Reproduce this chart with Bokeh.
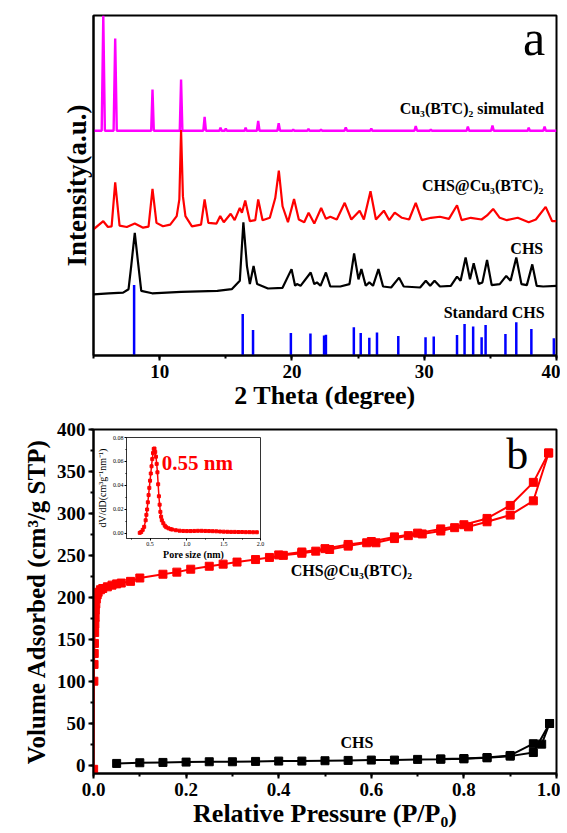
from bokeh.plotting import figure
from bokeh.models import SingleIntervalTicker, FixedTicker, PrintfTickFormatter, Range1d, Label
from bokeh.layouts import column
from bokeh.embed import file_html
from bokeh.resources import INLINE

FONT = "Liberation Serif"

# ---------------- Panel a : XRD patterns (2theta, intensity a.u.) ----------------
cu_btc_simulated = [
    (5.0, 66.1), (5.62, 66.1), (5.74, 100.0), (5.86, 66.1), (6.52, 66.1), (6.64, 93.2), (6.76, 66.1),
    (9.36, 66.1), (9.46, 78.2), (9.56, 66.1), (11.52, 66.1), (11.62, 81.2), (11.72, 66.1),
    (13.30, 66.1), (13.40, 70.2), (13.50, 66.1), (14.52, 66.1), (14.60, 67.0), (14.68, 66.1),
    (14.92, 66.1), (15.00, 66.8), (15.08, 66.1), (16.42, 66.1), (16.50, 67.0), (16.58, 66.1),
    (17.35, 66.1), (17.45, 69.0), (17.55, 66.1), (18.90, 66.1), (19.00, 68.3), (19.10, 66.1),
    (20.02, 66.1), (20.10, 66.5), (20.18, 66.1), (21.17, 66.1), (21.25, 66.7), (21.33, 66.1),
    (22.12, 66.1), (22.20, 66.5), (22.28, 66.1), (23.97, 66.1), (24.07, 67.1), (24.17, 66.1),
    (25.92, 66.1), (26.00, 66.8), (26.08, 66.1), (29.26, 66.1), (29.36, 67.5), (29.46, 66.1),
    (30.42, 66.1), (30.50, 66.5), (30.58, 66.1), (33.20, 66.1), (33.30, 67.3), (33.40, 66.1),
    (35.06, 66.1), (35.16, 67.6), (35.26, 66.1), (37.82, 66.1), (37.90, 67.0), (37.98, 66.1),
    (39.00, 66.1), (39.10, 67.3), (39.20, 66.1), (40.0, 66.1),
]

chs_cu_btc = [
    (5.00, 37.1), (5.74, 39.5), (6.09, 37.8), (6.37, 38.0), (6.64, 50.9), (6.97, 38.2), (7.52, 37.8),
    (8.12, 38.8), (8.75, 37.6), (9.16, 37.9), (9.46, 49.0), (9.76, 39.0), (10.25, 38.0), (10.80, 38.5),
    (11.29, 41.0), (11.49, 45.9), (11.62, 66.3), (11.76, 46.8), (11.95, 41.0), (12.44, 38.0),
    (13.13, 38.5), (13.40, 45.9), (13.68, 39.0), (14.30, 38.8), (14.58, 41.0), (14.85, 39.2),
    (15.37, 41.7), (15.67, 39.8), (16.06, 43.4), (16.22, 42.0), (16.47, 45.6), (16.82, 39.5),
    (17.23, 39.8), (17.45, 45.9), (17.78, 39.8), (18.33, 40.5), (18.74, 46.3), (19.01, 54.4),
    (19.29, 43.9), (19.70, 39.2), (20.16, 46.0), (20.52, 40.0), (20.93, 39.2), (21.26, 42.0),
    (21.69, 38.8), (22.21, 43.4), (22.57, 40.2), (22.90, 40.8), (23.39, 40.0), (23.99, 44.9),
    (24.49, 40.0), (25.12, 42.6), (25.44, 40.0), (25.94, 48.3), (26.35, 40.0), (26.95, 42.6),
    (27.36, 39.8), (27.77, 42.0), (28.32, 40.5), (28.86, 40.0), (29.36, 44.9), (29.82, 39.8),
    (30.51, 40.5), (31.19, 40.8), (31.87, 40.2), (32.48, 44.2), (32.83, 39.8), (33.52, 40.5),
    (34.34, 40.0), (34.75, 41.2), (35.21, 43.1), (35.71, 40.5), (36.25, 39.8), (37.07, 40.5),
    (37.90, 39.2), (38.44, 40.0), (39.18, 43.7), (39.67, 39.5), (40.00, 39.5),
]

chs = [
    (5.00, 18.0), (6.15, 18.3), (7.24, 18.5), (7.65, 19.5), (7.85, 26.3), (8.12, 36.1), (8.34, 28.3),
    (8.61, 19.0), (9.43, 18.3), (11.62, 18.7), (14.36, 19.0), (15.45, 19.5), (16.06, 22.0),
    (16.33, 39.2), (16.60, 26.3), (16.82, 21.0), (17.10, 26.3), (17.37, 21.0), (18.19, 19.7),
    (19.29, 19.9), (19.97, 25.4), (20.24, 20.5), (20.38, 21.0), (20.65, 20.5), (21.42, 24.4),
    (21.69, 21.0), (21.89, 21.5), (22.16, 20.5), (22.57, 24.4), (22.90, 20.3), (23.66, 20.3),
    (24.35, 21.0), (24.70, 30.0), (25.03, 22.4), (25.25, 25.4), (25.58, 20.5), (25.85, 21.5),
    (26.13, 20.5), (26.54, 25.4), (26.89, 20.3), (27.50, 20.0), (28.10, 22.9), (28.45, 20.3),
    (29.69, 20.0), (30.12, 22.0), (30.45, 20.5), (30.78, 22.0), (31.19, 20.3), (32.01, 20.5),
    (32.48, 23.2), (32.75, 22.0), (33.13, 28.8), (33.46, 22.4), (33.74, 27.1), (34.12, 21.0),
    (34.40, 21.5), (34.75, 28.1), (35.10, 20.7), (35.71, 21.0), (36.20, 23.4), (36.53, 22.0),
    (36.96, 28.8), (37.35, 21.0), (37.76, 20.7), (38.17, 26.8), (38.50, 20.5), (38.99, 20.3),
    (40.00, 20.5),
]

std_chs_pos = [8.07, 16.28, 17.06, 19.92, 21.40, 22.43, 22.57, 24.68, 25.20, 25.85, 26.43, 28.04,
               30.10, 30.72, 32.48, 33.05, 33.70, 34.34, 34.64, 36.14, 36.96, 38.10, 39.80]
std_chs_int = [20.7, 12.2, 7.5, 6.6, 6.5, 5.9, 6.1, 8.3, 6.6, 5.2, 6.8, 5.7,
               5.4, 5.6, 6.0, 9.3, 8.5, 5.4, 9.0, 6.3, 9.8, 7.8, 5.1]

xrd_ticks_interval = 10

# ---------------- Panel b : N2 isotherms ----------------
mof_ads = [
    (0.0003, -5), (0.0008, 100), (0.0012, 120), (0.0016, 133), (0.002, 145), (0.0025, 158),
    (0.003, 168), (0.0035, 176), (0.004, 185), (0.005, 192), (0.006, 198), (0.008, 203),
    (0.010, 206), (0.015, 209), (0.02, 210.5), (0.03, 212.5), (0.04, 214.5), (0.05, 216),
    (0.06, 217), (0.08, 219), (0.10, 223), (0.15, 227.5), (0.18, 230), (0.21, 233.5),
    (0.25, 237), (0.28, 239.5), (0.31, 242), (0.35, 245), (0.38, 247.5), (0.41, 250),
    (0.45, 252.5), (0.48, 255), (0.51, 257), (0.55, 261), (0.59, 265), (0.61, 265),
    (0.65, 270), (0.68, 273.5), (0.71, 275.5), (0.75, 279), (0.78, 283), (0.81, 284),
    (0.85, 290), (0.90, 298), (0.95, 315), (0.983, 372),
]
mof_des = [
    (0.983, 372), (0.95, 337), (0.90, 309.5), (0.85, 294), (0.80, 286.5), (0.75, 281.5),
    (0.70, 276.5), (0.65, 272), (0.60, 266.5), (0.55, 263), (0.50, 258), (0.45, 254), (0.40, 250.5),
]
chs_ads = [
    (0.05, 2.0), (0.10, 2.8), (0.15, 3.2), (0.20, 3.6), (0.25, 4.0), (0.30, 4.0), (0.35, 4.4),
    (0.40, 4.8), (0.45, 4.8), (0.50, 5.2), (0.55, 5.6), (0.60, 6.0), (0.65, 6.0), (0.70, 6.8),
    (0.75, 7.1), (0.80, 7.5), (0.85, 8.7), (0.90, 10.7), (0.95, 15.0), (0.985, 49.6),
]
chs_des = [
    (0.985, 49.6), (0.968, 25.0), (0.95, 25.5), (0.90, 11.5), (0.85, 9.0), (0.80, 7.8), (0.75, 7.3),
]

# ---------------- Inset : pore size distribution ----------------
psd = [
    (0.36, 0.0005), (0.38, 0.0012), (0.40, 0.0030), (0.42, 0.0055), (0.44, 0.011), (0.45, 0.0155),
    (0.46, 0.020), (0.47, 0.026), (0.48, 0.032), (0.49, 0.038), (0.50, 0.044), (0.51, 0.050),
    (0.52, 0.056), (0.53, 0.062), (0.54, 0.067), (0.55, 0.0705), (0.56, 0.0708), (0.57, 0.068),
    (0.58, 0.064), (0.59, 0.058), (0.60, 0.051), (0.61, 0.041), (0.62, 0.031), (0.63, 0.024),
    (0.64, 0.018), (0.65, 0.014), (0.66, 0.011), (0.68, 0.0085), (0.70, 0.0065), (0.72, 0.0052),
    (0.75, 0.0043), (0.78, 0.0036), (0.80, 0.0033), (0.85, 0.0027), (0.90, 0.0023), (0.95, 0.0021),
    (1.00, 0.0020), (1.05, 0.0020), (1.10, 0.0021), (1.15, 0.0022), (1.20, 0.0022), (1.25, 0.0021),
    (1.30, 0.0020), (1.35, 0.0019), (1.40, 0.0018), (1.45, 0.0016), (1.50, 0.0015), (1.55, 0.0014),
    (1.60, 0.0013), (1.65, 0.0013), (1.70, 0.0012), (1.75, 0.0012), (1.80, 0.0011), (1.85, 0.0011),
    (1.90, 0.0010), (1.95, 0.0010),
]


def xy(pts):
    return [p[0] for p in pts], [p[1] for p in pts]


def style_axes(p, tick_font="19px"):
    for ax in (p.xaxis[0], p.yaxis[0]):
        ax.axis_line_width = 2
        ax.axis_line_color = "black"
        ax.major_tick_line_width = 2
        ax.minor_tick_line_width = 2
        ax.major_tick_in = 0
        ax.minor_tick_in = 0
        ax.major_tick_out = 5
        ax.minor_tick_out = 3
        ax.major_label_text_font = FONT
        ax.major_label_text_font_style = "bold"
        ax.major_label_text_font_size = tick_font
        ax.major_label_text_color = "black"
        ax.axis_label_text_font = FONT
        ax.axis_label_text_font_style = "bold"
        ax.axis_label_text_color = "black"
    p.grid.visible = False
    p.outline_line_color = "black"
    p.outline_line_width = 2
    p.outline_line_alpha = 1


W = 560
PA_H = 414
PB_H = 419

# ================= panel a =================
pa = figure(width=W, height=PA_H, x_range=Range1d(5, 40), y_range=Range1d(0, 100),
            output_backend="svg", toolbar_location=None, frame_align=False,
            min_border_left=93, min_border_right=4, min_border_top=15, min_border_bottom=59)
style_axes(pa)
pa.xaxis.ticker = SingleIntervalTicker(interval=xrd_ticks_interval, num_minor_ticks=2)
pa.xaxis.major_label_standoff = 4
pa.xaxis.axis_label = "2 Theta (degree)"
pa.xaxis.axis_label_text_font_size = "26px"
pa.xaxis.axis_label_standoff = 0
pa.yaxis.ticker = FixedTicker(ticks=[], minor_ticks=[])
pa.yaxis.major_tick_out = 0
pa.yaxis.major_label_standoff = 0
pa.yaxis.axis_label = "Intensity(a.u.)"
pa.yaxis.axis_label_text_font_size = "27px"
pa.yaxis.axis_label_standoff = 2

x, y = xy(cu_btc_simulated)
pa.line(x, y, line_color="#ff00ff", line_width=2.4)
x, y = xy(chs_cu_btc)
pa.line(x, y, line_color="#ff0000", line_width=2.2)
x, y = xy(chs)
pa.line(x, y, line_color="black", line_width=2.2)
pa.segment(x0=std_chs_pos, y0=[0] * len(std_chs_pos), x1=std_chs_pos, y1=std_chs_int,
           line_color="#0000ff", line_width=2.5)

lab_kw = dict(text_font=FONT, text_font_style="bold", text_font_size="16px", text_color="black")
pa.add_layout(Label(x=39.05, y=72.6, text="Cu₃(BTC)₂ simulated", text_align="right",
                    text_baseline="middle", **lab_kw))
pa.add_layout(Label(x=39.0, y=50.0, text="CHS@Cu₃(BTC)₂", text_align="right",
                    text_baseline="middle", **lab_kw))
pa.add_layout(Label(x=39.0, y=31.5, text="CHS", text_align="right",
                    text_baseline="middle", **lab_kw))
pa.add_layout(Label(x=39.1, y=12.6, text="Standard CHS", text_align="right",
                    text_baseline="middle", **lab_kw))
pa.add_layout(Label(x=38.3, y=93.5, text="a", text_align="center", text_baseline="alphabetic",
                    text_font=FONT, text_font_size="50px", text_color="black"))

# ================= panel b =================
pb = figure(width=W, height=PB_H, x_range=Range1d(0, 1.0), y_range=Range1d(-10, 400),
            output_backend="svg", toolbar_location=None, frame_align=False,
            min_border_left=93, min_border_right=4, min_border_top=15, min_border_bottom=60)
style_axes(pb)
pb.xaxis.ticker = SingleIntervalTicker(interval=0.2, num_minor_ticks=2)
pb.xaxis.formatter = PrintfTickFormatter(format="%.1f")
pb.xaxis.major_label_standoff = 4
pb.xaxis.axis_label = "Relative Pressure (P/P₀)"
pb.xaxis.axis_label_text_font_size = "26px"
pb.xaxis.axis_label_standoff = 0
pb.yaxis.ticker = SingleIntervalTicker(interval=50, num_minor_ticks=2)
pb.yaxis.major_label_standoff = 3
pb.yaxis.axis_label = "Volume Adsorbed (cm³/g STP)"
pb.yaxis.axis_label_text_font_size = "25px"
pb.yaxis.axis_label_standoff = 4

for pts, col in ((mof_ads, "#ff0000"), (mof_des, "#ff0000"), (chs_ads, "black"), (chs_des, "black")):
    x, y = xy(pts)
    pb.line(x, y, line_color=col, line_width=2)
    pb.scatter(x, y, marker="square", size=8, fill_color=col, line_color=col)

pb.add_layout(Label(x=0.557, y=232, text="CHS@Cu₃(BTC)₂", text_align="center",
                    text_baseline="middle", **lab_kw))
pb.add_layout(Label(x=0.569, y=27.4, text="CHS", text_align="center",
                    text_baseline="middle", **lab_kw))
pb.add_layout(Label(x=0.915, y=370, text="b", text_align="center", text_baseline="alphabetic",
                    text_font=FONT, text_font_size="44px", text_color="black"))

# ================= inset (transparent overlay of the same size as panel b) =================
# frame of the inset inside panel b's canvas: left 126, right 260, top 23, bottom 124
pi = figure(width=W, height=PB_H,
            x_range=Range1d(0.18, 2.0), y_range=Range1d(-0.0042, 0.08),
            output_backend="svg", toolbar_location=None, frame_align=False,
            min_border_left=126, min_border_right=W - 260, min_border_top=23,
            min_border_bottom=PB_H - 124,
            background_fill_alpha=0, border_fill_alpha=0)
pi.grid.visible = False
pi.outline_line_color = "#333333"
pi.outline_line_width = 1
for ax in (pi.xaxis[0], pi.yaxis[0]):
    ax.axis_line_color = "#333333"
    ax.axis_line_width = 1
    ax.major_tick_in = 0
    ax.major_tick_out = 2
    ax.minor_tick_in = 0
    ax.minor_tick_out = 1
    ax.major_label_text_font = FONT
    ax.major_label_text_font_size = "6px"
    ax.major_label_text_color = "black"
    ax.major_label_standoff = 1
    ax.axis_label_text_font = FONT
    ax.axis_label_text_color = "black"
    ax.axis_label_standoff = 0
pi.xaxis.ticker = SingleIntervalTicker(interval=0.5, num_minor_ticks=2)
pi.xaxis.formatter = PrintfTickFormatter(format="%.1f")
pi.xaxis.axis_label = "Pore size (nm)"
pi.xaxis.axis_label_text_font_style = "bold"
pi.xaxis.axis_label_text_font_size = "10px"
pi.yaxis.ticker = SingleIntervalTicker(interval=0.02, num_minor_ticks=2)
pi.yaxis.formatter = PrintfTickFormatter(format="%.2f")
pi.yaxis.axis_label = "dV/dD(cm³g⁻¹nm⁻¹)"
pi.yaxis.axis_label_text_font_style = "normal"
pi.yaxis.axis_label_text_font_size = "10px"
pi.yaxis.axis_label_standoff = 2

x, y = xy(psd)
pi.line(x, y, line_color="#ff0000", line_width=1.5)
pi.scatter(x, y, marker="square", size=3, fill_color="#ff0000", line_color="#ff0000")
pi.add_layout(Label(x=0.66, y=0.059, text="0.55 nm", text_align="left", text_baseline="middle",
                    text_font=FONT, text_font_style="bold", text_font_size="21px",
                    text_color="#ff0000"))

# pull the overlay up so it sits exactly on top of panel b
pi.margin = (-PB_H, 0, 0, 0)

root = column(pa, pb, pi, spacing=0)
open("out.html", "w").write(file_html(root, INLINE))
